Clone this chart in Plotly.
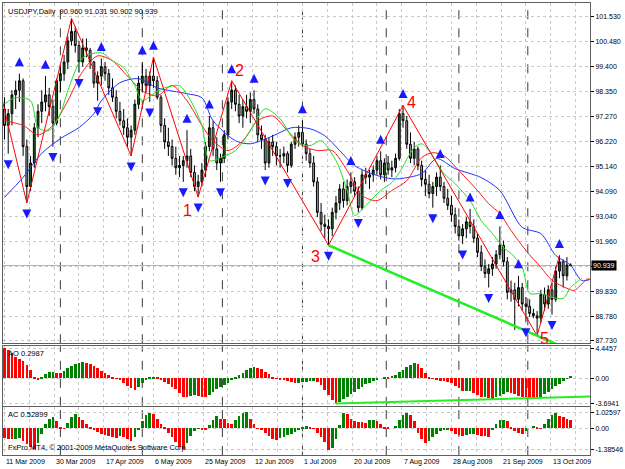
import plotly.graph_objects as go

# ---------------- data ----------------
symbol = "USDJPY"
period = "Daily"

opens = [97.6,96.9,97.4,98.2,98.4,98.8,96.0,94.3,95.3,96.8,
 97.5,97.9,98.2,97.7,97.0,98.8,99.1,99.6,100.5,100.9,
 100.3,99.6,100.2,100.1,99.6,98.7,99.0,99.4,99.1,98.5,
 98.1,97.5,97.1,96.8,96.4,96.7,97.8,98.7,99.0,98.6,
 99.0,98.8,98.1,96.9,96.2,96.0,95.5,95.1,95.2,95.4,
 95.6,94.9,94.3,94.5,95.0,96.0,96.8,95.9,95.3,95.5,
 96.5,97.9,98.4,97.8,97.3,97.7,97.5,98.0,97.6,96.5,
 96.3,95.3,96.2,96.0,95.6,95.6,95.7,95.2,96.1,96.4,
 96.6,96.1,95.7,95.3,94.5,93.2,92.7,92.6,92.5,93.2,
 93.6,94.2,93.7,94.3,94.5,94.1,93.4,94.8,94.7,94.8,
 95.0,95.4,94.8,95.3,95.0,95.1,95.5,97.4,97.1,96.1,
 95.5,95.9,95.2,94.6,94.4,94.0,94.3,94.7,94.3,93.8,
 93.5,93.1,92.6,92.2,92.5,92.8,92.6,92.1,91.5,90.9,
 90.6,90.8,91.0,91.4,91.8,91.1,89.8,89.9,89.5,90.0,
 89.3,89.2,88.9,88.8,88.7,89.7,89.3,89.9,89.5,90.7,
 91.1,90.5,90.960]
highs = [98.1,97.6,98.4,98.8,99.1,98.9,96.3,95.6,97.0,97.8,
 98.4,99.0,98.5,98.0,98.9,99.4,99.9,100.7,101.45,101.1,
 100.5,100.6,100.6,100.2,99.65,99.2,99.75,99.6,99.3,98.9,
 98.4,97.9,97.6,97.2,96.9,98.0,99.0,99.6,99.3,99.2,
 99.8,99.0,98.2,97.2,96.8,96.3,96.0,95.6,95.6,96.7,
 95.9,95.2,94.8,95.3,96.2,97.3,97.1,96.4,95.7,96.7,
 98.1,98.8,98.6,98.2,98.0,98.2,98.3,98.4,97.8,96.9,
 96.5,96.4,96.5,96.2,95.9,96.0,95.8,96.2,96.6,96.9,
 97.1,96.3,95.9,95.6,94.7,93.6,93.1,92.9,93.4,93.9,
 94.4,94.5,94.6,94.9,94.7,94.3,95.0,95.1,95.0,95.2,
 95.6,95.8,95.5,95.6,95.4,95.7,97.6,97.75,97.3,96.6,
 96.2,96.0,95.4,95.0,94.8,94.5,94.9,95.2,94.5,94.2,
 93.9,93.4,92.9,92.7,93.0,93.35,92.9,92.3,91.8,91.2,
 91.0,91.3,91.6,92.6,92.0,91.3,90.3,90.2,90.5,90.2,
 89.6,89.5,89.1,89.0,89.9,90.0,90.1,90.2,90.9,91.37,
 91.2,91.3,91.031]
lows = [96.3,95.7,96.9,97.6,97.9,95.6,93.6,94.1,95.1,96.4,
 97.0,97.5,97.3,96.0,96.9,98.3,98.8,99.3,100.3,100.0,
 99.15,99.4,99.8,99.3,98.5,97.95,98.6,98.8,98.2,97.9,
 97.2,96.9,96.5,96.0,95.6,96.5,97.6,98.3,98.3,97.9,
 98.5,98.0,96.6,95.9,95.6,95.2,94.8,94.7,94.5,95.1,
 94.7,94.1,93.85,94.3,94.7,95.8,95.6,95.0,94.5,95.3,
 96.3,97.6,97.5,97.0,96.8,97.2,97.0,97.4,96.2,95.9,
 95.0,95.1,95.6,95.2,95.1,95.3,94.9,95.1,95.9,96.0,
 96.0,95.4,95.1,94.3,93.0,92.4,92.1,91.8,92.2,92.9,
 93.3,93.4,93.5,94.0,93.9,93.2,93.3,94.4,94.2,94.5,
 94.8,94.6,94.5,94.8,94.7,94.9,95.4,96.8,95.9,95.3,
 95.2,95.0,94.3,93.9,93.8,93.4,93.9,94.1,93.6,93.3,
 92.8,92.3,92.0,91.85,92.1,92.3,91.9,91.3,90.7,90.4,
 90.0,90.5,90.8,91.2,90.9,89.5,89.4,88.2,89.2,89.0,
 88.55,88.75,88.7,87.95,88.5,89.0,89.1,88.85,89.4,90.4,
 90.0,90.3,90.902]
closes = [96.9,97.4,98.2,98.4,98.8,96.0,94.3,95.3,96.8,97.5,
 97.9,98.2,97.7,97.0,98.8,99.1,99.6,100.5,100.9,100.3,
 99.6,100.2,100.1,99.6,98.7,99.0,99.4,99.1,98.5,98.1,
 97.5,97.1,96.8,96.4,96.7,97.8,98.7,99.0,98.6,99.0,
 98.8,98.1,96.9,96.2,96.0,95.5,95.1,95.2,95.4,95.6,
 94.9,94.3,94.5,95.0,96.0,96.8,95.9,95.3,95.5,96.5,
 97.9,98.4,97.8,97.3,97.7,97.5,98.0,97.6,96.5,96.3,
 95.3,96.2,96.0,95.6,95.6,95.7,95.2,96.1,96.4,96.6,
 96.1,95.7,95.3,94.5,93.2,92.7,92.6,92.5,93.2,93.6,
 94.2,93.7,94.3,94.5,94.1,93.4,94.8,94.7,94.8,95.0,
 95.4,94.8,95.3,95.0,95.1,95.5,97.4,97.1,96.1,95.5,
 95.9,95.2,94.6,94.4,94.0,94.3,94.7,94.3,93.8,93.5,
 93.1,92.6,92.2,92.5,92.8,92.6,92.1,91.5,90.9,90.6,
 90.8,91.0,91.4,91.8,91.1,89.8,89.9,89.5,90.0,89.3,
 89.2,88.9,88.8,88.7,89.7,89.3,89.9,89.5,90.7,91.1,
 90.5,90.96,90.939]

# Alligator lines (bar index, price)
jaw_x = [0,5,10,15,20,24,26,31,36,41,49,53,56,62,66,72,77,82,86,90,94,100,104,106,112,116,121,128,133,139,144,148,152,155,158]
jaw_y = [93.84,94.69,95.71,96.34,96.81,97.4,97.95,98.72,98.89,98.5,98.25,98.08,97.1,96.25,96.12,96.45,96.8,96.76,96.46,95.83,95.19,94.77,94.63,94.63,94.85,95.49,95.06,94.68,94.13,92.56,92.3,91.37,90.95,90.3,90.39]
teeth_x = [0,5,9,13,17,21,25,29,33,37,41,45,49,53,56,60,64,68,72,76,80,84,88,92,96,100,104,108,112,115,118,122,127,130,133,136,140,144,147,151,153,156,157]
teeth_y = [97.1,96.9,96.5,96.9,97.95,99.2,99.86,99.65,99.0,98.37,98.16,98.6,97.95,96.9,96.25,95.83,96.25,97.1,97.3,96.67,96.04,95.83,95.83,94.98,93.92,93.7,94.13,94.55,95.53,95.74,95.61,94.98,94.13,93.57,93.15,92.43,91.58,90.86,90.31,89.97,89.88,90.31,90.39]
lips_x = [0,3,7,9,12,15,17,21,26,29,32,35,37,40,43,47,50,53,55,58,62,66,70,74,78,82,85,89,92,94,97,101,104,106,110,112,114,118,121,125,128,131,134,136,139,141,144,147,150,152,155]
lips_y = [97.82,98.08,97.95,96.81,96.68,97.4,98.37,99.78,99.99,99.65,99.35,98.59,97.95,98.25,98.5,98.59,97.95,96.9,95.4,95.53,95.83,96.67,97.61,97.18,96.25,96.04,96.25,95.4,94.13,93.07,93.49,94.13,94.47,94.89,95.95,96.12,95.83,94.85,94.42,93.7,92.85,92.3,91.7,91.45,90.86,89.75,89.75,89.58,89.54,90.01,90.39]

# Fractals (bar indices)
up_fractals = [4,11,18,26,37,40,49,55,61,67,80,93,101,107,117,125,133,138,149]
down_fractals = [1,6,13,20,25,34,39,48,52,58,70,76,87,95,115,123,130,137,140,143,147]

# ZigZag vertices
zz_x = [-2,6,18,34,40,52,61,87,107,143,149]
zz_y = [98.9,93.6,101.45,95.6,99.8,93.85,98.8,91.8,97.75,87.95,91.37]
wave_labels = ["1","2","3","4","5"]
wave_vertex = [5,6,7,8,9]

# Awesome Oscillator
ao = [4.4457,4.2,3.7,3.2,2.8,2.57,2.0,1.23,0.25,-0.15,
 0.15,0.6,0.9,1.0,0.78,0.74,1.1,1.5,1.85,2.1,
 2.3,2.37,2.32,2.1,1.8,1.5,1.15,0.75,0.45,0.15,
 -0.1,-0.25,-0.65,-1.1,-1.5,-1.73,-1.33,-0.75,-0.25,0.1,
 0.15,0.1,-0.15,-0.5,-0.85,-1.25,-1.63,-2.2,-2.7,-2.8,
 -2.6,-2.5,-2.56,-2.7,-2.72,-2.47,-2.0,-1.6,-1.25,-1.0,
 -0.65,-0.25,0.15,0.5,0.85,1.23,1.5,1.63,1.53,1.33,
 1.0,0.65,0.25,-0.05,-0.15,-0.25,-0.4,-0.55,-0.65,-0.62,
 -0.55,-0.5,-0.45,-0.4,-0.5,-1.0,-1.73,-2.47,-3.2,-3.6941,
 -3.45,-3.1,-2.7,-2.3,-2.0,-1.63,-1.25,-0.9,-0.65,-0.35,
 -0.15,0.0,0.25,0.22,0.35,0.55,0.9,1.23,1.63,2.0,
 2.22,2.12,1.5,0.75,0.25,-0.1,-0.25,-0.35,-0.45,-0.55,
 -0.75,-1.1,-1.5,-1.95,-1.9,-1.85,-2.2,-2.5,-2.8,-2.75,
 -2.9,-3.05,-2.8,-2.55,-2.3,-2.1,-2.15,-2.35,-2.55,-2.7,
 -2.8,-2.85,-2.88,-2.9,-2.75,-2.4,-2.0,-1.6,-1.2,-0.85,
 -0.45,-0.1,0.2987]
ao_trend_pts = [89,131]

# Accelerator Oscillator
ac = [-0.62,-0.7,-0.72,-0.68,-0.66,-0.8,-1.0,-1.2,-1.36,-0.95,
 -0.35,0.25,0.6,0.75,0.45,0.1,-0.05,0.35,0.7,0.92,
 0.75,0.5,0.3,0.1,-0.1,-0.25,-0.35,-0.42,-0.5,-0.55,
 -0.62,-0.5,-0.6,-0.72,-0.8,-0.55,-0.15,0.45,0.85,1.0,
 0.9,0.6,0.3,0.05,-0.3,-0.6,-0.9,-1.2,-1.32,-0.95,
 -0.5,-0.2,-0.05,-0.1,-0.15,0.2,0.55,0.8,0.62,0.6,
 0.35,0.3,0.5,0.8,0.95,1.02597,0.6,0.3,-0.05,-0.1,
 -0.3,-0.5,-0.7,-0.75,-0.65,-0.55,-0.45,-0.35,-0.25,-0.1,
 0.05,0.12,0.05,-0.05,-0.3,-0.6,-0.9,-1.38546,-1.3,-0.7,
 0.2,0.95,0.9,0.6,0.45,0.4,0.38,0.35,0.5,0.55,
 0.45,0.3,0.1,0.05,0.0,0.15,0.5,0.85,1.0,0.85,
 0.45,-0.3,-0.7,-0.95,-0.8,-0.6,-0.4,-0.2,-0.1,-0.08,
 -0.2,-0.35,-0.45,-0.5,-0.45,-0.4,-0.38,-0.45,-0.5,-0.52,
 -0.55,-0.1,0.3,0.5,0.55,0.45,0.1,-0.2,-0.3,-0.35,
 -0.2,0.0,0.15,0.05,-0.05,0.3,0.6,0.85,1.0,0.8,
 0.7,0.62,0.52899]

date_labels = ["11 Mar 2009","30 Mar 2009","17 Apr 2009","6 May 2009","25 May 2009","12 Jun 2009",
               "1 Jul 2009","20 Jul 2009","7 Aug 2009","28 Aug 2009","21 Sep 2009","13 Oct 2009"]
date_bars = [0,13.33,26.67,40,53.33,66.67,80,93.33,106.67,120,133.33,146.67]
month_seps = [15,37,58.5,80,102.5,122,140.5]
price_ticks = [101.53,100.48,99.40,98.35,97.27,96.22,95.14,94.09,93.04,91.96,90.91,89.83,88.78,87.73]

# ---------------- figure ----------------
N = len(closes)
xs = list(range(N))
FONT = "Liberation Sans"
fig = go.Figure()

fig.add_trace(go.Candlestick(
    x=xs, open=opens, high=highs, low=lows, close=closes,
    increasing=dict(line=dict(color="#000000", width=1), fillcolor="#1f6b1f"),
    decreasing=dict(line=dict(color="#000000", width=1), fillcolor="#a8a8a8"),
    whiskerwidth=0, xaxis="x", yaxis="y", hoverinfo="skip", showlegend=False))

for lx, ly, col in [(jaw_x, jaw_y, "#2233ff"), (teeth_x, teeth_y, "#ff1a1a"), (lips_x, lips_y, "#22dd22")]:
    fig.add_trace(go.Scatter(x=lx, y=ly, mode="lines", line=dict(color=col, width=1, shape="spline", smoothing=0.8),
                             xaxis="x", yaxis="y", hoverinfo="skip", showlegend=False))

# zigzag
fig.add_trace(go.Scatter(x=zz_x, y=zz_y, mode="lines", line=dict(color="#ff0000", width=1),
                         xaxis="x", yaxis="y", hoverinfo="skip", showlegend=False))

# green trend line through wave 3 and 5 lows
a, b = zz_x[7], zz_x[9]
slope = (zz_y[9] - zz_y[7]) / (b - a)
tx = [a, 162]
fig.add_trace(go.Scatter(x=tx, y=[zz_y[7] + slope * (t - a) for t in tx], mode="lines",
                         line=dict(color="#22ee22", width=2.5), xaxis="x", yaxis="y",
                         hoverinfo="skip", showlegend=False))

# fractals
up_off = 0.70
dn_off = 0.66
fig.add_trace(go.Scatter(x=up_fractals, y=[highs[i] + up_off for i in up_fractals], mode="markers",
                         marker=dict(symbol="arrow-up", size=9, color="#1a1aff", line=dict(width=0)),
                         xaxis="x", yaxis="y", hoverinfo="skip", showlegend=False, cliponaxis=False))
fig.add_trace(go.Scatter(x=down_fractals, y=[lows[i] - dn_off for i in down_fractals], mode="markers",
                         marker=dict(symbol="arrow-down", size=9, color="#1a1aff", line=dict(width=0)),
                         xaxis="x", yaxis="y", hoverinfo="skip", showlegend=False))

# AO
ao_col = ["#ff0000"] + ["#008000" if ao[i] > ao[i - 1] else "#ff0000" for i in range(1, N)]
fig.add_trace(go.Bar(x=xs, y=ao, marker=dict(color=ao_col, line=dict(width=0)), width=0.72,
                     xaxis="x2", yaxis="y2", hoverinfo="skip", showlegend=False))
p, q = ao_trend_pts
s2 = (ao[q] - ao[p]) / (q - p)
ax2 = [p, 162]
fig.add_trace(go.Scatter(x=ax2, y=[ao[p] + s2 * (t - p) for t in ax2], mode="lines",
                         line=dict(color="#22ee22", width=2), xaxis="x2", yaxis="y2",
                         hoverinfo="skip", showlegend=False))

# AC
ac_col = ["#ff0000"] + ["#008000" if ac[i] > ac[i - 1] else "#ff0000" for i in range(1, N)]
fig.add_trace(go.Bar(x=xs, y=ac, marker=dict(color=ac_col, line=dict(width=0)), width=0.72,
                     xaxis="x3", yaxis="y3", hoverinfo="skip", showlegend=False))

# ---------------- layout ----------------
xr = [-0.4, 157.2]
grid = "#c9c9c9"
frame = "#606060"
xcommon = dict(range=xr, tickmode="linear", tick0=0, dtick=20 / 3, showticklabels=False, ticks="",
               showgrid=True, gridcolor=grid, griddash="dot", gridwidth=1, zeroline=False,
               showline=True, mirror=True, linecolor=frame, linewidth=1)

ao_max, ao_min = max(ao), min(ao)
ac_max, ac_min = max(ac), min(ac)
ao_pad = (ao_max - ao_min) * 0.043
ac_pad = (ac_max - ac_min) * 0.14

ycommon = dict(side="right", ticks="outside", ticklen=3, tickcolor="#000000", showgrid=True, gridcolor=grid,
               griddash="dot", zeroline=False, showline=True, mirror=True, linecolor=frame, linewidth=1,
               tickfont=dict(family=FONT, size=7, color="#000000"), fixedrange=True)

# the tick hidden under the current-price box keeps its grid line but no text
last = closes[-1]
price_text = ["" if abs(v - last) < 0.3 else f"{v:.3f}" for v in price_ticks]

fig.update_layout(
    width=625, height=469, margin=dict(l=2, r=32, t=2, b=14),
    paper_bgcolor="#ffffff", plot_bgcolor="#ffffff", showlegend=False, bargap=0,
    font=dict(family=FONT, size=7, color="#000000"),
    xaxis=dict(**xcommon, anchor="y", domain=[0, 1], rangeslider=dict(visible=False)),
    xaxis2=dict(**xcommon, anchor="y2", domain=[0, 1], matches="x"),
    xaxis3=dict(**xcommon, anchor="y3", domain=[0, 1], matches="x"),
    yaxis=dict(**ycommon, anchor="x", domain=[0.2472, 1], range=[87.63, 102.11],
               tickvals=price_ticks, ticktext=price_text),
    yaxis2=dict(**ycommon, anchor="x2", domain=[0.1088, 0.2406], range=[ao_min - ao_pad, ao_max + ao_pad],
                tickvals=[ao_max, 0, ao_min], ticktext=[f"{ao_max:.4f}", "0.00", f"{ao_min:.4f}"]),
    yaxis3=dict(**ycommon, anchor="x3", domain=[0, 0.106], range=[ac_min - ac_pad, ac_max + ac_pad],
                tickvals=[ac_max, 0, ac_min], ticktext=[f"{ac_max:.5f}", "0.00", f"{ac_min:.5f}"]),
)

shapes = []
for s in month_seps:
    for xa, ya in [("x", "y domain"), ("x2", "y2 domain"), ("x3", "y3 domain")]:
        shapes.append(dict(type="line", xref=xa, yref=ya, x0=s, x1=s, y0=0, y1=1,
                           line=dict(color="#3a3a3a", width=1, dash="dash"), layer="below"))
# bid line
shapes.append(dict(type="line", xref="x domain", yref="y", x0=0, x1=1, y0=last, y1=last,
                   line=dict(color="#b4b4b4", width=1), layer="below"))
fig.update_layout(shapes=shapes)

ann = []
ann.append(dict(xref="paper", yref="paper", x=0, y=1, xanchor="left", yanchor="top", xshift=3, yshift=-2,
                text=f"{symbol},{period}  {opens[-1]:.3f} {highs[-1]:.3f} {lows[-1]:.3f} {closes[-1]:.3f}",
                showarrow=False, font=dict(family=FONT, size=7.5, color="#000000")))
ann.append(dict(xref="paper", yref="y2 domain", x=0, y=1, xanchor="left", yanchor="top", xshift=3, yshift=-1,
                text=f"AO {ao[-1]:.4f}", showarrow=False, font=dict(family=FONT, size=7.5, color="#000000")))
ann.append(dict(xref="paper", yref="y3 domain", x=0, y=1, xanchor="left", yanchor="top", xshift=3, yshift=-1,
                text=f"AC {ac[-1]:.5f}", showarrow=False, font=dict(family=FONT, size=7.5, color="#000000")))
ann.append(dict(xref="paper", yref="y3 domain", x=0, y=0, xanchor="left", yanchor="bottom", xshift=3, yshift=1,
                text="FxPro MT4, © 2001-2009 MetaQuotes Software Corp.", showarrow=False,
                font=dict(family=FONT, size=7.5, color="#000000")))
for d, bx in zip(date_labels, date_bars):
    ann.append(dict(xref="x3", yref="paper", x=bx, y=0, xanchor="left", yanchor="top", xshift=0, yshift=-1,
                    text=d, showarrow=False, font=dict(family=FONT, size=7, color="#000000")))
# wave numbers
offs = [(-11, -13), (8, 10), (-13, -11), (8, 3), (7, -3)]
for lbl, vi, (dx, dy) in zip(wave_labels, wave_vertex, offs):
    ann.append(dict(xref="x", yref="y", x=zz_x[vi], y=zz_y[vi], text=lbl, showarrow=False,
                    xshift=dx, yshift=dy, font=dict(family=FONT, size=16, color="#ff0000")))
# current price box
ann.append(dict(xref="paper", yref="y", x=1, y=last, xanchor="left", yanchor="middle", xshift=1,
                text=f"{last:.3f}", showarrow=False, bgcolor="#000000", borderpad=1,
                font=dict(family=FONT, size=7, color="#ffffff")))
fig.update_layout(annotations=ann)

fig.write_html("out.html")
